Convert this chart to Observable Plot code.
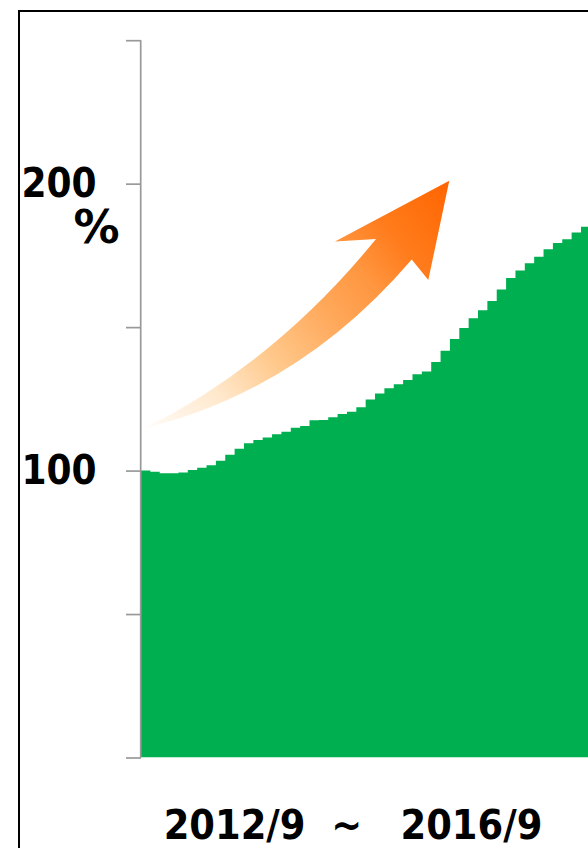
<!DOCTYPE html>
<html>
<head>
<meta charset="utf-8">
<script src="https://cdn.jsdelivr.net/npm/d3@7"></script>
<script src="https://cdn.jsdelivr.net/npm/@observablehq/plot@0.6"></script>
<style>
  html, body { margin: 0; padding: 0; background: #fff; overflow: hidden; }
  #wrap { position: relative; width: 588px; height: 848px; overflow: hidden; }
  #frame { position: absolute; left: 18px; top: 10px; width: 700px; height: 900px;
           border-left: 2px solid #000; border-top: 2px solid #000; pointer-events: none; }
</style>
</head>
<body>
<div id="wrap"><div id="chart"></div><div id="frame"></div></div>
<script>
// ---- data ----
// monthly index, 2012/9 = 100
const months = [];
for (let y = 2012, m = 9; y < 2016 || (y === 2016 && m <= 9); m++) {
  if (m > 12) { m = 1; y++; }
  months.push(`${y}/${m}`);
}
const values = [
  100.0, 99.6, 99.1, 99.1, 99.3, 100.2, 101.0, 101.9, 103.4, 105.5,
  107.6, 109.5, 110.7, 111.5, 112.7, 113.5, 114.9, 115.5, 117.5, 117.6,
  118.6, 119.7, 120.5, 122.1, 124.8, 126.9, 128.7, 130.1, 131.6, 133.6,
  134.5, 137.8, 141.8, 145.9, 149.7, 153.1, 155.9, 159.1, 163.1, 167.1,
  169.7, 172.3, 174.5, 177.1, 179.3, 180.6, 183.0, 185.0, 187.0
];
const yTicks = [0, 50, 100, 150, 200, 250];
const yTickLabels = [100, 200];
const unitLabel = ["%"];
const periodLabel = ["2012/9\u00a0\u00a0~\u00a0\u00a0\u00a02016/9"];

// decorative rising arrow, in chart units (month index, %)
const arrowShape = {
  tail: [0.43, 114.8],
  upperCtrl: [14.42, 137.8],
  notchUpper: [25.10, 180.7],
  leftBarb: [20.72, 179.8],
  tip: [32.93, 201.0],
  rightBarb: [30.69, 166.4],
  notchLower: [28.92, 173.6],
  lowerCtrl: [16.99, 128.1]
};

const data = months.map((month, i) => ({i, month, value: values[i]}));

const boldFont = '"DejaVu Sans Condensed", "DejaVu Sans", sans-serif';

function arrowMark(index, scales) {
  const X = scales.x, Y = scales.y;
  const ns = "http://www.w3.org/2000/svg";
  const pt = ([a, b]) => `${X(a)},${Y(b)}`;
  const g = document.createElementNS(ns, "g");
  const defs = document.createElementNS(ns, "defs");
  const grad = document.createElementNS(ns, "linearGradient");
  grad.setAttribute("id", "arrowGrad");
  grad.setAttribute("gradientUnits", "userSpaceOnUse");
  grad.setAttribute("x1", X(arrowShape.tail[0]));
  grad.setAttribute("y1", Y(arrowShape.tail[1]));
  grad.setAttribute("x2", X(arrowShape.tip[0]));
  grad.setAttribute("y2", Y(arrowShape.tip[1]));
  [[0, "#fffcf8"], [0.2, "#ffe8cc"], [0.36, "#ffc98c"], [0.55, "#ffa85a"],
   [0.68, "#ff9640"], [0.8, "#ff7c1c"], [1, "#ff6400"]].forEach(([o, c]) => {
    const s = document.createElementNS(ns, "stop");
    s.setAttribute("offset", o);
    s.setAttribute("stop-color", c);
    grad.appendChild(s);
  });
  defs.appendChild(grad);
  g.appendChild(defs);
  const a = arrowShape;
  const path = document.createElementNS(ns, "path");
  path.setAttribute("d",
    `M${pt(a.tail)}Q${pt(a.upperCtrl)} ${pt(a.notchUpper)}L${pt(a.leftBarb)}L${pt(a.tip)}` +
    `L${pt(a.rightBarb)}L${pt(a.notchLower)}Q${pt(a.lowerCtrl)} ${pt(a.tail)}Z`);
  path.setAttribute("fill", "url(#arrowGrad)");
  g.appendChild(path);
  return g;
}

const chart = Plot.plot({
  width: 588,
  height: 848,
  marginLeft: 141,
  marginRight: 0,
  marginTop: 40.2,
  marginBottom: 90.5,
  style: {background: "#fff", overflow: "hidden"},
  x: {domain: [0, 47.75], axis: null},
  y: {domain: [0, 250], axis: null, label: null},
  marks: [
    Plot.areaY(data, {x: "i", y: "value", curve: "step-after", fill: "#00b050", clip: true}),
    arrowMark,
    Plot.ruleX([0], {stroke: "#999", strokeWidth: 1.7, dx: -0.8}),
    Plot.axisY({
      ticks: yTicks,
      tickSize: 15,
      tickPadding: 30,
      stroke: "#999",
      strokeWidth: 1.7,
      fill: "#000",
      fontSize: 40,
      fontWeight: "bold",
      fontFamily: boldFont,
      label: null,
      tickFormat: d => yTickLabels.includes(d) ? String(d) : ""
    }),
    Plot.text(unitLabel, {
      y: 200, frameAnchor: "left", dx: -45, dy: 59, lineAnchor: "bottom",
      textAnchor: "middle", fontSize: 46, fontWeight: "bold",
      fontFamily: '"DejaVu Sans", sans-serif', fill: "#000"
    }),
    Plot.text(periodLabel, {
      frameAnchor: "bottom-left", dx: 352.5 - 141, dy: 80.5, lineAnchor: "bottom",
      textAnchor: "middle", fontSize: 41, fontWeight: "bold",
      fontFamily: boldFont, fill: "#000"
    })
  ]
});
document.getElementById("chart").appendChild(chart);
</script>
</body>
</html>
